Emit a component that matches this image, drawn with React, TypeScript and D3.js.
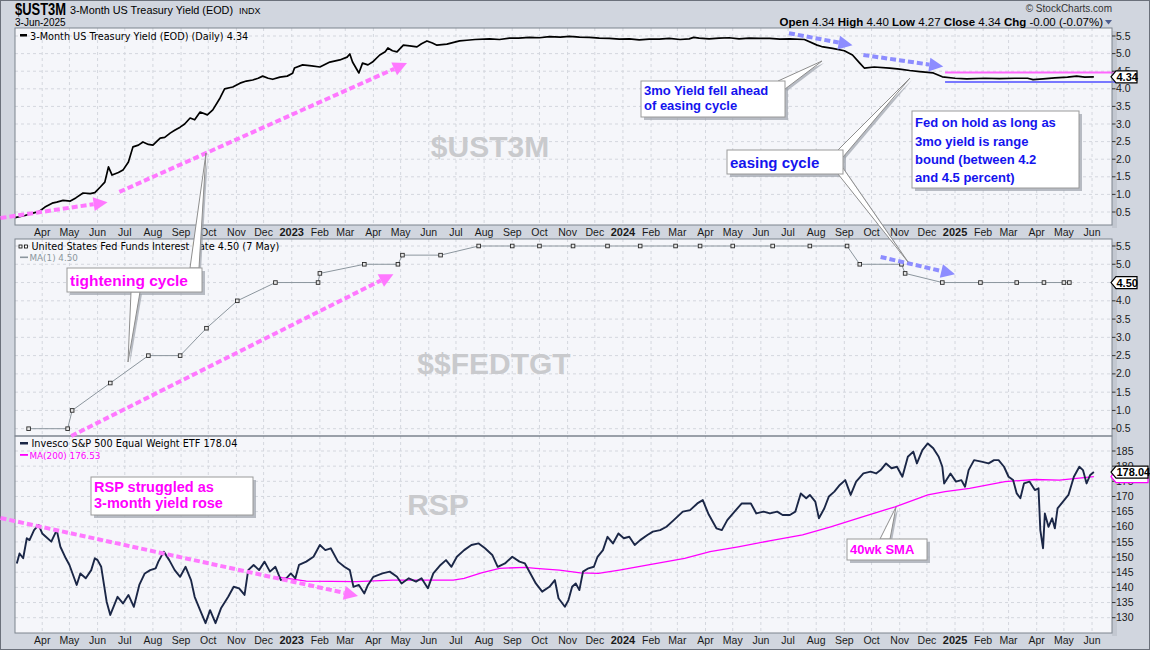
import React from "react";
import * as d3 from "d3";

// ---------- values ----------
const ust3mDates = [
  "2022-03-02", "2022-03-13", "2022-03-22", "2022-03-29", "2022-04-04", "2022-04-12", "2022-04-17", "2022-04-24",
  "2022-05-02", "2022-05-08", "2022-05-16", "2022-05-24", "2022-05-29", "2022-06-04", "2022-06-09", "2022-06-13",
  "2022-06-17", "2022-06-24", "2022-06-29", "2022-07-05", "2022-07-10", "2022-07-16", "2022-07-21", "2022-07-27",
  "2022-08-01", "2022-08-09", "2022-08-14", "2022-08-20", "2022-08-25", "2022-08-31", "2022-09-05", "2022-09-11",
  "2022-09-16", "2022-09-22", "2022-09-30", "2022-10-06", "2022-10-14", "2022-10-19", "2022-10-28", "2022-11-05",
  "2022-11-12", "2022-11-19", "2022-11-25", "2022-11-30", "2022-12-06", "2022-12-11", "2022-12-19", "2022-12-27",
  "2023-01-02", "2023-01-04", "2023-01-13", "2023-01-23", "2023-02-01", "2023-02-12", "2023-02-23", "2023-03-03",
  "2023-03-06", "2023-03-09", "2023-03-16", "2023-03-20", "2023-03-26", "2023-03-31", "2023-04-08", "2023-04-14",
  "2023-04-17", "2023-04-22", "2023-04-27", "2023-05-04", "2023-05-11", "2023-05-19", "2023-05-24", "2023-05-30",
  "2023-06-05", "2023-06-10", "2023-06-21", "2023-07-05", "2023-07-13", "2023-07-22", "2023-08-07", "2023-08-18",
  "2023-08-29", "2023-09-08", "2023-09-20", "2023-10-01", "2023-10-12", "2023-10-24", "2023-11-03", "2023-11-14",
  "2023-11-25", "2023-12-06", "2023-12-17", "2023-12-28", "2024-01-08", "2024-01-19", "2024-01-30", "2024-02-10",
  "2024-02-21", "2024-03-04", "2024-03-14", "2024-03-19", "2024-03-25", "2024-04-05", "2024-04-16", "2024-04-27",
  "2024-05-08", "2024-05-19", "2024-05-30", "2024-06-11", "2024-06-22", "2024-07-03", "2024-07-19", "2024-08-02",
  "2024-08-07", "2024-08-19", "2024-09-01", "2024-09-10", "2024-09-18", "2024-09-23", "2024-10-04", "2024-10-21",
  "2024-11-01", "2024-11-12", "2024-11-23", "2024-12-08", "2024-12-18", "2025-01-01", "2025-01-14", "2025-02-03",
  "2025-02-19", "2025-03-08", "2025-03-22", "2025-03-28", "2025-04-08", "2025-04-21", "2025-05-05", "2025-05-15",
  "2025-05-24", "2025-06-03",
];
const ust3mValues = [
  0.34, 0.4, 0.47, 0.52, 0.64, 0.75, 0.78, 0.83,
  0.81, 0.9, 1.04, 1.02, 1.05, 1.21, 1.35, 1.78,
  1.55, 1.62, 1.69, 1.92, 2.35, 2.4, 2.49, 2.42,
  2.4, 2.6, 2.62, 2.74, 2.82, 2.91, 3.0, 3.17,
  3.12, 3.34, 3.26, 3.4, 3.74, 4.0, 4.05, 4.16,
  4.22, 4.25, 4.3, 4.36, 4.3, 4.27, 4.33, 4.36,
  4.44, 4.59, 4.68, 4.65, 4.62, 4.76, 4.82, 4.9,
  4.99, 4.76, 4.45, 4.73, 4.68, 4.76, 4.96, 5.05,
  5.16, 5.08, 5.05, 5.24, 5.22, 5.19, 5.28, 5.36,
  5.3, 5.24, 5.27, 5.36, 5.38, 5.4, 5.42, 5.4,
  5.44, 5.44, 5.46, 5.45, 5.48, 5.47, 5.49, 5.47,
  5.46, 5.44, 5.43, 5.41, 5.42, 5.39, 5.41, 5.41,
  5.43, 5.4, 5.42, 5.46, 5.44, 5.42, 5.44, 5.45,
  5.42, 5.44, 5.43, 5.43, 5.41, 5.42, 5.4, 5.24,
  5.2, 5.15, 5.08, 4.96, 4.73, 4.59, 4.62, 4.59,
  4.56, 4.52, 4.49, 4.45, 4.34, 4.3, 4.28, 4.3,
  4.29, 4.3, 4.3, 4.26, 4.28, 4.31, 4.33, 4.36,
  4.33, 4.34,
];

const fedDates = [
  "2022-03-17", "2022-04-29", "2022-05-04", "2022-06-15", "2022-07-27", "2022-08-31", "2022-09-29", "2022-11-02",
  "2022-12-14", "2023-01-30", "2023-02-01", "2023-03-22", "2023-04-28", "2023-05-03", "2023-06-14", "2023-07-26",
  "2023-09-01", "2023-10-01", "2023-11-07", "2023-12-15", "2024-01-20", "2024-02-28", "2024-03-26", "2024-05-01",
  "2024-06-14", "2024-07-25", "2024-09-04", "2024-09-18", "2024-11-03", "2024-11-07", "2024-12-18", "2025-01-29",
  "2025-03-10", "2025-04-09", "2025-05-01", "2025-05-07",
];
const fedValues = [
  0.5, 0.5, 1.0, 1.75, 2.5, 2.5, 3.25, 4.0,
  4.5, 4.5, 4.75, 5.0, 5.0, 5.25, 5.25, 5.5,
  5.5, 5.5, 5.5, 5.5, 5.5, 5.5, 5.5, 5.5,
  5.5, 5.5, 5.5, 5.0, 5.0, 4.75, 4.5, 4.5,
  4.5, 4.5, 4.5, 4.5,
];

const rspDates = [
  "2022-03-04", "2022-03-07", "2022-03-11", "2022-03-15", "2022-03-18", "2022-03-23", "2022-03-28", "2022-04-01",
  "2022-04-05", "2022-04-11", "2022-04-17", "2022-04-21", "2022-04-27", "2022-05-01", "2022-05-09", "2022-05-13",
  "2022-05-19", "2022-05-25", "2022-05-29", "2022-06-01", "2022-06-05", "2022-06-11", "2022-06-15", "2022-06-23",
  "2022-06-29", "2022-07-05", "2022-07-11", "2022-07-17", "2022-07-23", "2022-07-29", "2022-08-04", "2022-08-07",
  "2022-08-13", "2022-08-19", "2022-08-25", "2022-08-31", "2022-09-06", "2022-09-12", "2022-09-16", "2022-09-22",
  "2022-09-28", "2022-10-03", "2022-10-09", "2022-10-15", "2022-10-23", "2022-10-29", "2022-11-04", "2022-11-10",
  "2022-11-14", "2022-11-20", "2022-11-26", "2022-12-02", "2022-12-08", "2022-12-14", "2022-12-20", "2022-12-26",
  "2022-12-31", "2023-01-05", "2023-01-09", "2023-01-17", "2023-01-25", "2023-02-01", "2023-02-07", "2023-02-13",
  "2023-02-21", "2023-02-28", "2023-03-06", "2023-03-10", "2023-03-16", "2023-03-22", "2023-03-26", "2023-04-01",
  "2023-04-11", "2023-04-19", "2023-04-27", "2023-05-02", "2023-05-10", "2023-05-18", "2023-05-24", "2023-05-31",
  "2023-06-06", "2023-06-14", "2023-06-20", "2023-06-26", "2023-07-02", "2023-07-10", "2023-07-18", "2023-07-26",
  "2023-08-02", "2023-08-10", "2023-08-16", "2023-08-24", "2023-09-01", "2023-09-09", "2023-09-15", "2023-09-21",
  "2023-09-27", "2023-10-04", "2023-10-12", "2023-10-18", "2023-10-22", "2023-10-29", "2023-11-02", "2023-11-06",
  "2023-11-10", "2023-11-14", "2023-11-18", "2023-11-24", "2023-11-30", "2023-12-04", "2023-12-10", "2023-12-15",
  "2023-12-21", "2023-12-27", "2024-01-02", "2024-01-08", "2024-01-14", "2024-01-20", "2024-01-28", "2024-02-03",
  "2024-02-11", "2024-02-18", "2024-02-26", "2024-03-07", "2024-03-15", "2024-03-23", "2024-03-29", "2024-04-04",
  "2024-04-13", "2024-04-19", "2024-04-25", "2024-05-03", "2024-05-11", "2024-05-21", "2024-05-27", "2024-06-04",
  "2024-06-11", "2024-06-19", "2024-06-25", "2024-07-03", "2024-07-09", "2024-07-15", "2024-07-21", "2024-07-25",
  "2024-07-31", "2024-08-04", "2024-08-10", "2024-08-15", "2024-08-21", "2024-08-27", "2024-09-02", "2024-09-08",
  "2024-09-14", "2024-09-22", "2024-09-30", "2024-10-06", "2024-10-11", "2024-10-17", "2024-10-23", "2024-10-29",
  "2024-11-04", "2024-11-10", "2024-11-16", "2024-11-20", "2024-11-26", "2024-12-02", "2024-12-08", "2024-12-14",
  "2024-12-18", "2024-12-20", "2024-12-27", "2025-01-02", "2025-01-08", "2025-01-12", "2025-01-16", "2025-01-22",
  "2025-01-30", "2025-02-07", "2025-02-13", "2025-02-18", "2025-02-24", "2025-03-01", "2025-03-06", "2025-03-10",
  "2025-03-14", "2025-03-18", "2025-03-24", "2025-03-30", "2025-04-03", "2025-04-05", "2025-04-08", "2025-04-10",
  "2025-04-14", "2025-04-18", "2025-04-21", "2025-04-24", "2025-04-30", "2025-05-06", "2025-05-12", "2025-05-18",
  "2025-05-22", "2025-05-26", "2025-05-30", "2025-06-03",
];
const rspValues = [
  147.9, 151.2, 149.6, 156.2, 155.6, 158.9, 160.6, 157.8,
  156.7, 155.1, 158.9, 153.4, 149.6, 147.4, 140.8, 144.6,
  143.0, 145.7, 149.6, 149.0, 146.8, 135.3, 130.9, 136.9,
  134.7, 137.5, 133.6, 140.8, 144.6, 145.7, 146.3, 148.5,
  151.8, 149.0, 145.7, 143.5, 146.8, 142.4, 136.9, 132.5,
  128.2, 132.5, 128.2, 133.1, 136.9, 140.2, 139.7, 137.5,
  145.7, 147.4, 145.7, 148.5, 145.2, 146.8, 142.4, 143.0,
  144.6, 143.0, 147.4, 148.5, 150.1, 154.0, 152.3, 152.9,
  148.5, 146.8, 145.7, 140.2, 140.8, 138.0, 140.8, 143.5,
  144.6, 145.2, 143.5, 141.3, 143.0, 141.9, 143.0, 139.7,
  144.6, 147.4, 149.0, 146.8, 150.1, 152.3, 154.0, 154.5,
  152.9, 150.7, 146.8, 147.9, 150.1, 148.5, 147.9, 144.6,
  141.3, 138.6, 140.2, 142.4, 136.4, 133.6, 135.8, 140.2,
  141.3, 139.1, 145.2, 146.3, 146.8, 150.1, 152.3, 156.7,
  154.5, 157.8, 156.2, 156.7, 154.0, 155.6, 157.3, 158.4,
  158.9, 160.0, 162.2, 165.0, 165.5, 167.7, 168.8, 164.4,
  159.5, 158.9, 162.2, 165.0, 167.7, 167.7, 164.4, 165.0,
  164.4, 165.0, 163.9, 163.9, 165.0, 171.0, 169.4, 170.5,
  168.3, 162.8, 166.1, 170.0, 171.6, 173.8, 175.4, 170.5,
  174.9, 177.6, 178.2, 177.6, 178.7, 180.9, 179.3, 179.8,
  176.5, 183.1, 184.8, 180.9, 185.3, 187.5, 185.9, 183.1,
  179.8, 174.3, 177.6, 174.9, 175.4, 173.2, 178.7, 182.0,
  181.5, 180.9, 182.0, 182.0, 179.8, 176.5, 175.4, 171.0,
  169.4, 174.3, 174.9, 172.1, 172.7, 158.9, 152.9, 164.4,
  160.0, 162.8, 159.5, 166.1, 168.3, 170.5, 176.5, 179.8,
  178.7, 174.3, 177.1, 178.04,
];

const maDates = [
  "2022-12-16", "2023-01-17", "2023-03-13", "2023-04-22", "2023-05-31", "2023-06-28", "2023-07-10", "2023-07-29",
  "2023-08-18", "2023-09-15", "2023-09-27", "2023-10-23", "2023-11-15", "2023-12-05", "2023-12-28", "2024-01-29",
  "2024-03-09", "2024-04-06", "2024-05-07", "2024-06-15", "2024-07-17", "2024-08-17", "2024-09-21", "2024-10-27",
  "2024-12-02", "2024-12-21", "2025-01-17", "2025-02-25", "2025-03-30", "2025-04-26", "2025-06-03",
];
const maValues = [
  143.5, 142.1, 141.9, 142.4, 142.4, 142.4, 143.0, 144.8,
  146.3, 146.6, 146.3, 145.7, 144.8, 144.6, 145.7, 147.4,
  149.6, 151.8, 153.4, 155.6, 157.3, 160.0, 163.3, 166.6,
  170.5, 171.6, 172.7, 174.9, 175.6, 175.4, 176.53,
];

const yieldTicks = [0.5, 1.0, 1.5, 2.0, 2.5, 3.0, 3.5, 4.0, 4.5, 5.0, 5.5];
const rspTicks = [130, 135, 140, 145, 150, 155, 160, 165, 170, 175, 180, 185];
const rangeBand = [4.46, 4.19]; // upper (pink) and lower (blue) range lines

// ---------- layout ----------
const W = 1150;
const H = 650;
const PL = 15;
const PR = 1112;
const P1 = { y0: 28, y1: 225 };
const P2 = { y0: 239, y1: 436 };
const P3 = { y0: 436, y1: 633 };

const AX = "'Liberation Sans', Arial, sans-serif";
const LG = "'DejaVu Sans', Verdana, sans-serif";
const PINK = "#ff78ff";
const LBLUE = "#8d8dff";
const BLUE = "#1414ee";
const MAG = "#ff00ff";

const parse = d3.timeParse("%Y-%m-%d");
const zip = (ds: string[], vs: number[]) =>
  ds.map((d, i) => [parse(d) as Date, vs[i]] as [Date, number]);

type Pt = [number, number];

function Arrow({ a, b, color }: { a: Pt; b: Pt; color: string }) {
  const dx = b[0] - a[0];
  const dy = b[1] - a[1];
  const len = Math.hypot(dx, dy);
  const ux = dx / len;
  const uy = dy / len;
  const hl = 14;
  const hw = 7;
  const bx = b[0] - ux * hl;
  const by = b[1] - uy * hl;
  const head = [
    [b[0], b[1]],
    [bx - uy * hw, by + ux * hw],
    [bx + uy * hw, by - ux * hw],
  ]
    .map((p) => p.join(","))
    .join(" ");
  return (
    <g>
      <line x1={a[0]} y1={a[1]} x2={bx} y2={by} stroke={color} strokeWidth={4} strokeDasharray="6,3" />
      <polygon points={head} fill={color} />
    </g>
  );
}

function Callout({
  box,
  lines,
  color,
  size,
  lead,
  wedges = [],
}: {
  box: [number, number, number, number];
  lines: string[];
  color: string;
  size: number;
  lead: number;
  wedges?: Pt[][];
}) {
  const [bx, by, bw, bh] = box;
  const pts = (w: Pt[], o = 0) => w.map((p) => `${p[0] + o},${p[1] + o}`).join(" ");
  return (
    <g>
      {wedges.map((w, i) => (
        <polygon key={"s" + i} points={pts(w, 2)} fill="#9da2ab" opacity={0.7} />
      ))}
      <rect x={bx + 3} y={by + 3} width={bw} height={bh} fill="#9da2ab" opacity={0.7} />
      {wedges.map((w, i) => (
        <polygon key={"w" + i} points={pts(w)} fill="#ffffff" stroke="#8e8e8e" strokeWidth={1} />
      ))}
      <rect x={bx} y={by} width={bw} height={bh} fill="#ffffff" stroke="#9a9a9a" strokeWidth={1} />
      {lines.map((t, i) => (
        <text
          key={i}
          x={bx + 3}
          y={by + lead * (i + 1) - (lead - size) * 0.35}
          fontFamily={AX}
          fontWeight="bold"
          fontSize={size}
          fill={color}
        >
          {t}
        </text>
      ))}
    </g>
  );
}

// last-value flag on the right axis; text is optional (a flag hidden behind another has none)
function Tag({ cy, text, w, stroke }: { cy: number; text?: string; w: number; stroke: string }) {
  const x0 = PR - 1;
  const h = 6;
  const d = `M${x0},${cy} L${x0 + 5},${cy - h} L${x0 + w},${cy - h} L${x0 + w},${cy + h} L${x0 + 5},${cy + h} Z`;
  return (
    <g>
      <path d={d} fill="#ffffff" stroke={stroke} strokeWidth={1.2} />
      {text && (
        <text x={x0 + 5.5} y={cy + 4} fontFamily={AX} fontWeight="bold" fontSize={11} fill="#000">
          {text}
        </text>
      )}
    </g>
  );
}

export default function App() {
  const x = d3
    .scaleTime()
    .domain([parse("2022-03-02") as Date, parse("2025-06-23") as Date])
    .range([PL, PR]);
  const yTop = d3.scaleLinear().domain([0.5, 5.5]).range([212, 36]);
  const yMid = d3.scaleLinear().domain([0.5, 5.5]).range([428.7, 246]);
  const yBot = d3.scaleLinear().domain([130, 185]).range([617.7, 451]);

  const ust = zip(ust3mDates, ust3mValues);
  const fed = zip(fedDates, fedValues);
  const rsp = zip(rspDates, rspValues);
  const ma = zip(maDates, maValues);

  const lineFor = (y: d3.ScaleLinear<number, number>) =>
    d3
      .line<[Date, number]>()
      .x((d) => x(d[0]))
      .y((d) => y(d[1]));

  const months = d3.timeMonth
    .range(new Date(2022, 2, 1), new Date(2025, 6, 1))
    .filter((m) => x(m) > PL + 2 && x(m) < PR - 2);

  const fmtMonth = d3.timeFormat("%b");
  const dp = (s: string, v: number, y: d3.ScaleLinear<number, number>): Pt => [
    x(parse(s) as Date),
    y(v),
  ];

  // hidden: value labels fully covered by a last-value flag
  const panels = [
    { p: P1, y: yTop, ticks: yieldTicks, hidden: [] as number[], fmt: (v: number) => v.toFixed(1) },
    { p: P2, y: yMid, ticks: yieldTicks, hidden: [4.5], fmt: (v: number) => v.toFixed(1) },
    { p: P3, y: yBot, ticks: rspTicks, hidden: [] as number[], fmt: (v: number) => String(v) },
  ];

  const monthLabels = (yBase: number) =>
    months.map((m, i) => {
      const jan = m.getMonth() === 0;
      return (
        <text
          key={i}
          x={x(m)}
          y={yBase}
          textAnchor="middle"
          fontFamily={AX}
          fontSize={jan ? 11 : 10.5}
          fontWeight={jan ? "bold" : "normal"}
          fill="#1a1a1a"
        >
          {jan ? m.getFullYear() : fmtMonth(m)}
        </text>
      );
    });

  const bandStart = x(parse("2024-12-21") as Date);

  return (
    <svg
      width={W}
      height={H}
      viewBox={`0 0 ${W} ${H}`}
      style={{ position: "absolute", left: 0, top: 0, display: "block" }}
    >
      <rect x={0.5} y={0.5} width={W - 1} height={H - 1} fill="#d1d6df" stroke="#6b717b" />
      <rect x={PR} y={P1.y0 + 3} width={5} height={P1.y1 - P1.y0} fill="#c3c8d1" />
      <rect x={PR} y={P2.y0 + 3} width={5} height={P3.y1 - P2.y0} fill="#c3c8d1" />

      {/* panels + grid */}
      {panels.map(({ p, y, ticks }, k) => (
        <g key={k}>
          <rect x={PL} y={p.y0} width={PR - PL} height={p.y1 - p.y0} fill="#f5f6fa" />
          {months.map((m, i) => (
            <line
              key={"v" + i}
              x1={x(m)}
              x2={x(m)}
              y1={p.y0}
              y2={p.y1}
              stroke="#d4d7de"
              strokeDasharray="3,3"
            />
          ))}
          {ticks.map((t, i) => (
            <line
              key={"h" + i}
              x1={PL}
              x2={PR}
              y1={y(t)}
              y2={y(t)}
              stroke="#d4d7de"
              strokeDasharray="3,3"
            />
          ))}
        </g>
      ))}

      {/* watermarks */}
      <text x={490} y={157} textAnchor="middle" fontFamily={AX} fontWeight="bold" fontSize={30} fill="#c9cacd">
        $UST3M
      </text>
      <text x={494} y={374} textAnchor="middle" fontFamily={AX} fontWeight="bold" fontSize={30} fill="#c9cacd">
        $$FEDTGT
      </text>
      <text x={438} y={515} textAnchor="middle" fontFamily={AX} fontWeight="bold" fontSize={30} fill="#c9cacd">
        RSP
      </text>

      {/* series */}
      <path d={lineFor(yTop)(ust) || ""} fill="none" stroke="#000" strokeWidth={1.7} strokeLinejoin="round" />
      <path d={lineFor(yMid)(fed) || ""} fill="none" stroke="#8c969e" strokeWidth={1} />
      {fed.map((d, i) => (
        <rect
          key={i}
          x={x(d[0]) - 1.8}
          y={yMid(d[1]) - 1.8}
          width={3.6}
          height={3.6}
          fill="#e8e8e8"
          stroke="#2a2a2a"
          strokeWidth={0.9}
        />
      ))}
      <path d={lineFor(yBot)(ma) || ""} fill="none" stroke={MAG} strokeWidth={1.3} />
      <path d={lineFor(yBot)(rsp) || ""} fill="none" stroke="#1b2747" strokeWidth={1.9} strokeLinejoin="round" />

      {/* range lines on the yield */}
      <line x1={bandStart} x2={PR + 3} y1={yTop(rangeBand[0])} y2={yTop(rangeBand[0])} stroke="#ff66ff" strokeWidth={2} />
      <line x1={bandStart} x2={PR + 3} y1={yTop(rangeBand[1])} y2={yTop(rangeBand[1])} stroke="#7878ff" strokeWidth={2} />

      {/* panel borders */}
      {panels.map(({ p }, k) => (
        <rect key={k} x={PL} y={p.y0} width={PR - PL} height={p.y1 - p.y0} fill="none" stroke="#7d848e" />
      ))}

      {/* legends */}
      <rect x={20} y={34} width={7} height={2.5} fill="#000" />
      <text x={30} y={39.5} fontFamily={LG} fontSize={9.7} fill="#000">
        3-Month US Treasury Yield (EOD) (Daily) 4.34
      </text>
      <rect x={19} y={245} width={3} height={3} fill="#fff" stroke="#000" strokeWidth={0.8} />
      <rect x={24.5} y={245} width={3} height={3} fill="#fff" stroke="#000" strokeWidth={0.8} />
      <text x={31.5} y={250} fontFamily={LG} fontSize={9.7} fill="#000">
        United States Fed Funds Interest Rate 4.50 (7 May)
      </text>
      <rect x={20} y={256.5} width={8} height={1.6} fill="#8c969e" />
      <text x={29.5} y={260.5} fontFamily={LG} fontSize={8.8} fill="#8c969e">
        MA(1) 4.50
      </text>
      <rect x={20} y={442} width={8} height={2.5} fill="#1b2747" />
      <text x={31.5} y={447} fontFamily={LG} fontSize={9.7} fill="#000">
        Invesco S&amp;P 500 Equal Weight ETF 178.04
      </text>
      <rect x={20} y={454} width={8} height={1.8} fill={MAG} />
      <text x={29.5} y={459} fontFamily={LG} fontSize={8.8} fill={MAG}>
        MA(200) 176.53
      </text>

      {/* header */}
      <text
        x={15}
        y={14.5}
        fontFamily={AX}
        fontWeight="bold"
        fontSize={17}
        textLength={51}
        lengthAdjust="spacingAndGlyphs"
        fill="#000"
      >
        $UST3M
      </text>
      <text x={70} y={13.5} fontFamily={AX} fontSize={11.5} textLength={163} lengthAdjust="spacingAndGlyphs" fill="#000">
        3-Month US Treasury Yield (EOD)
      </text>
      <text x={239} y={13.5} fontFamily={AX} fontSize={9} fill="#000">
        INDX
      </text>
      <text x={15} y={25.5} fontFamily={AX} fontSize={10} fill="#000">
        3-Jun-2025
      </text>
      <text x={PR} y={12} textAnchor="end" fontFamily={AX} fontSize={10} fill="#333">
        © StockCharts.com
      </text>
      <text x={1103} y={25.5} textAnchor="end" fontFamily={AX} fontSize={11.5} fill="#000">
        <tspan fontWeight="bold">Open</tspan> 4.34 <tspan fontWeight="bold">High</tspan> 4.40{" "}
        <tspan fontWeight="bold">Low</tspan> 4.27 <tspan fontWeight="bold">Close</tspan> 4.34{" "}
        <tspan fontWeight="bold">Chg</tspan> -0.00 (-0.07%)
      </text>
      <polygon points="1105,20 1112,20 1108.5,24.5" fill="#4f5f8f" />

      {/* x axis labels */}
      {monthLabels(235.5)}
      {monthLabels(644)}

      {/* y axis labels */}
      {panels.map(({ y, ticks, hidden, fmt }, k) => (
        <g key={k}>
          {ticks.map((t, i) => (
            <g key={i}>
              <line x1={PR} x2={PR + 3.5} y1={y(t)} y2={y(t)} stroke="#333" />
              {!hidden.includes(t) && (
                <text x={PR + 4} y={y(t) + 3.6} fontFamily={AX} fontSize={10.5} fill="#1a1a1a">
                  {fmt(t)}
                </text>
              )}
            </g>
          ))}
        </g>
      ))}

      {/* annotations: trend arrows */}
      <Arrow a={dp("2022-02-14", 0.33, yTop)} b={dp("2022-06-12", 0.78, yTop)} color={PINK} />
      <Arrow a={dp("2022-06-25", 1.07, yTop)} b={dp("2023-05-08", 4.73, yTop)} color={PINK} />
      <Arrow a={dp("2022-05-03", 0.3, yMid)} b={dp("2023-04-23", 4.73, yMid)} color={PINK} />
      <Arrow a={dp("2022-02-14", 162.9, yBot)} b={dp("2023-03-15", 137.2, yBot)} color={PINK} />
      <Arrow a={dp("2024-07-02", 5.58, yTop)} b={dp("2024-09-10", 5.24, yTop)} color={LBLUE} />
      <Arrow a={dp("2024-09-22", 4.96, yTop)} b={dp("2024-12-19", 4.63, yTop)} color={LBLUE} />
      <Arrow a={dp("2024-10-11", 5.2, yMid)} b={dp("2025-01-01", 4.73, yMid)} color={LBLUE} />

      {/* annotations: callouts */}
      <Callout
        box={[641, 81, 144, 36]}
        lines={["3mo Yield fell ahead", "of easing cycle"]}
        color={BLUE}
        size={13}
        lead={15}
        wedges={[[[778, 81], [785, 89], [822, 61]]]}
      />
      <Callout
        box={[727, 150, 116, 24]}
        lines={["easing cycle"]}
        color={BLUE}
        size={15}
        lead={19}
        wedges={[
          [[838, 150], [843, 157], [910, 78]],
          [[843, 168], [838, 174], [908, 262]],
        ]}
      />
      <Callout
        box={[912, 111, 167, 77]}
        lines={["Fed on hold as long as", "3mo yield is range", "bound (between 4.2", "and 4.5 percent)"]}
        color={BLUE}
        size={13}
        lead={18.3}
      />
      <Callout
        box={[67, 268, 135, 24]}
        lines={["tightening cycle"]}
        color={MAG}
        size={15.5}
        lead={19}
        wedges={[
          [[190, 268], [199, 268], [206, 153]],
          [[131, 292], [140, 292], [128, 362]],
        ]}
      />
      <Callout
        box={[91, 477, 162, 38]}
        lines={["RSP struggled as", "3-month yield rose"]}
        color={MAG}
        size={14.5}
        lead={15.5}
      />
      <Callout
        box={[847, 539, 80, 21]}
        lines={["40wk SMA"]}
        color={MAG}
        size={13}
        lead={16}
        wedges={[[[880, 539], [890, 539], [896, 507]]]}
      />

      {/* last value tags */}
      <Tag cy={yTop(4.34)} text="4.34" w={26} stroke="#000" />
      <Tag cy={yMid(4.5)} text="4.50" w={26} stroke="#000" />
      <Tag cy={yBot(176.53)} w={37} stroke={MAG} />
      <Tag cy={yBot(178.04)} text="178.04" w={37} stroke="#000" />
    </svg>
  );
}
